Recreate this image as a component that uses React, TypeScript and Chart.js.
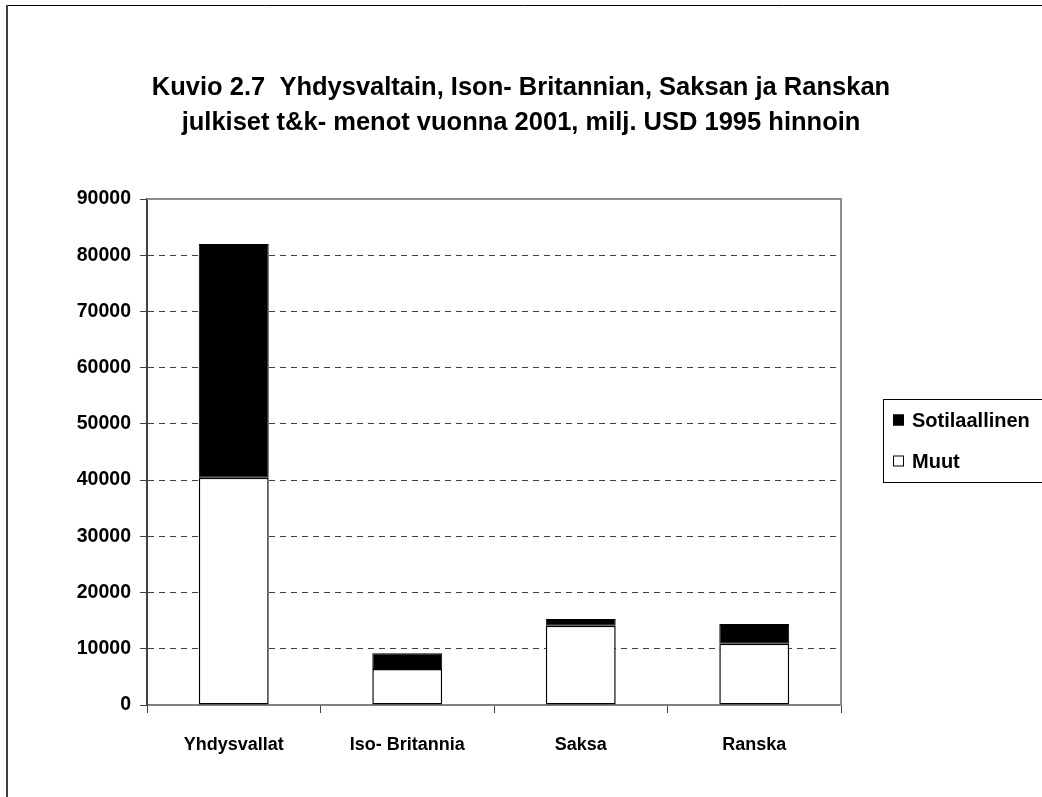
import React, { useEffect, useRef } from "react";
import { Chart, registerables } from "chart.js";

Chart.register(...registerables);

const categories = ["Yhdysvallat", "Iso- Britannia", "Saksa", "Ranska"];
const muutValues = [40400, 6400, 14100, 10900];
const sotilaallinenValues = [41600, 2800, 1200, 3500];
const seriesLabels = ["Muut", "Sotilaallinen"];
const titleLines = [
  "Kuvio 2.7  Yhdysvaltain, Ison- Britannian, Saksan ja Ranskan",
  "julkiset t&k- menot vuonna 2001, milj. USD 1995 hinnoin",
];
const yMin = 0;
const yMax = 90000;
const yStep = 10000;

const FONT = "'Liberation Sans', Arial, sans-serif";

const decorPlugin = {
  id: "decor",
  afterDraw(chart: any) {
    const ctx = chart.ctx;
    const a = chart.chartArea;
    ctx.save();
    // outer frame (top + left)
    ctx.strokeStyle = "#000";
    ctx.lineWidth = 1;
    ctx.beginPath();
    ctx.moveTo(7, 5.5);
    ctx.lineTo(chart.width, 5.5);
    ctx.stroke();
    ctx.strokeStyle = "#404040";
    ctx.lineWidth = 2;
    ctx.beginPath();
    ctx.moveTo(7, 5);
    ctx.lineTo(7, chart.height);
    ctx.stroke();
    // plot area border top/right
    ctx.strokeStyle = "#8c8c8c";
    ctx.lineWidth = 2;
    ctx.beginPath();
    ctx.moveTo(a.left, a.top);
    ctx.lineTo(a.right, a.top);
    ctx.lineTo(a.right, a.bottom);
    ctx.stroke();
    // legend
    const lx = 883.5;
    const ly = 399.5;
    ctx.strokeStyle = "#000";
    ctx.lineWidth = 1;
    ctx.strokeRect(lx, ly, 200, 83);
    const ds = chart.data.datasets.slice().reverse();
    ctx.font = "bold 20px " + FONT;
    ctx.textBaseline = "middle";
    ctx.textAlign = "left";
    ds.forEach((d: any, i: number) => {
      const cy = 420 + i * 41;
      ctx.fillStyle = d.backgroundColor;
      ctx.fillRect(893, cy - 5.5, 11, 11);
      ctx.strokeStyle = "#000";
      ctx.lineWidth = 1;
      ctx.strokeRect(893.5, cy - 5, 10, 10);
      ctx.fillStyle = "#000";
      ctx.fillText(d.label, 912, cy + 1);
    });
    ctx.restore();
  },
};

export default function App() {
  const ref = useRef<HTMLCanvasElement>(null);
  useEffect(() => {
    if (!ref.current) return;
    Chart.defaults.font.family = FONT;
    const chart = new Chart(ref.current, {
      type: "bar",
      data: {
        labels: categories,
        datasets: [
          {
            label: seriesLabels[0],
            data: muutValues,
            backgroundColor: "#ffffff",
            borderColor: "#000000",
            borderWidth: 1.5,
            borderSkipped: false,
          },
          {
            label: seriesLabels[1],
            data: sotilaallinenValues,
            backgroundColor: "#000000",
            borderColor: "#000000",
            borderWidth: 1,
            borderSkipped: false,
          },
        ],
      },
      options: {
        animation: false,
        responsive: false,
        maintainAspectRatio: false,
        events: [],
        datasets: { bar: { categoryPercentage: 1, barPercentage: 0.403 } },
        layout: { padding: { top: 0, left: 0, right: 0, bottom: 0 } },
        plugins: {
          legend: { display: false },
          tooltip: { enabled: false },
          title: {
            display: true,
            text: titleLines,
            color: "#000",
            font: { size: 25.5, weight: "bold", family: FONT, lineHeight: 35 / 25.5 },
            padding: { top: 70, bottom: 59 },
          },
        },
        scales: {
          x: {
            stacked: true,
            grid: {
              display: true,
              drawOnChartArea: false,
              drawTicks: true,
              tickLength: 8,
              offset: true,
              tickColor: "#404040",
              tickWidth: 1,
            },
            border: { display: true, color: "#808080", width: 2 },
            ticks: {
              color: "#000",
              font: { size: 18, weight: "bold", family: FONT },
              padding: 21,
              maxRotation: 0,
            },
            afterFit: (s: any) => {
              s.height = 92;
            },
          },
          y: {
            stacked: true,
            min: yMin,
            max: yMax,
            ticks: {
              stepSize: yStep,
              color: "#000",
              font: { size: 19.5, weight: "bold", family: FONT },
              padding: 9,
              callback: (v: any) => String(v),
            },
            grid: {
              color: (c: any) =>
                c.tick && (c.tick.value === yMin || c.tick.value === yMax)
                  ? "rgba(0,0,0,0)"
                  : "#404040",
              lineWidth: 1,
              tickLength: 7,
              tickColor: "#404040",
              tickWidth: 1,
              tickBorderDash: [1, 0],
            },
            border: { display: true, color: "#404040", width: 2, dash: [6, 5] },
            afterFit: (s: any) => {
              s.width = 147;
            },
          },
          yRight: {
            type: "linear",
            position: "right",
            display: true,
            grid: { display: false },
            border: { display: false },
            ticks: { display: false },
            afterFit: (s: any) => {
              s.width = 201;
            },
          },
        },
      },
      plugins: [decorPlugin],
    });
    return () => chart.destroy();
  }, []);
  return (
    <div style={{ position: "fixed", left: 0, top: 0, width: 1042, height: 797, background: "#fff" }}>
      <canvas ref={ref} width={1042} height={797} style={{ width: 1042, height: 797, display: "block" }} />
    </div>
  );
}
